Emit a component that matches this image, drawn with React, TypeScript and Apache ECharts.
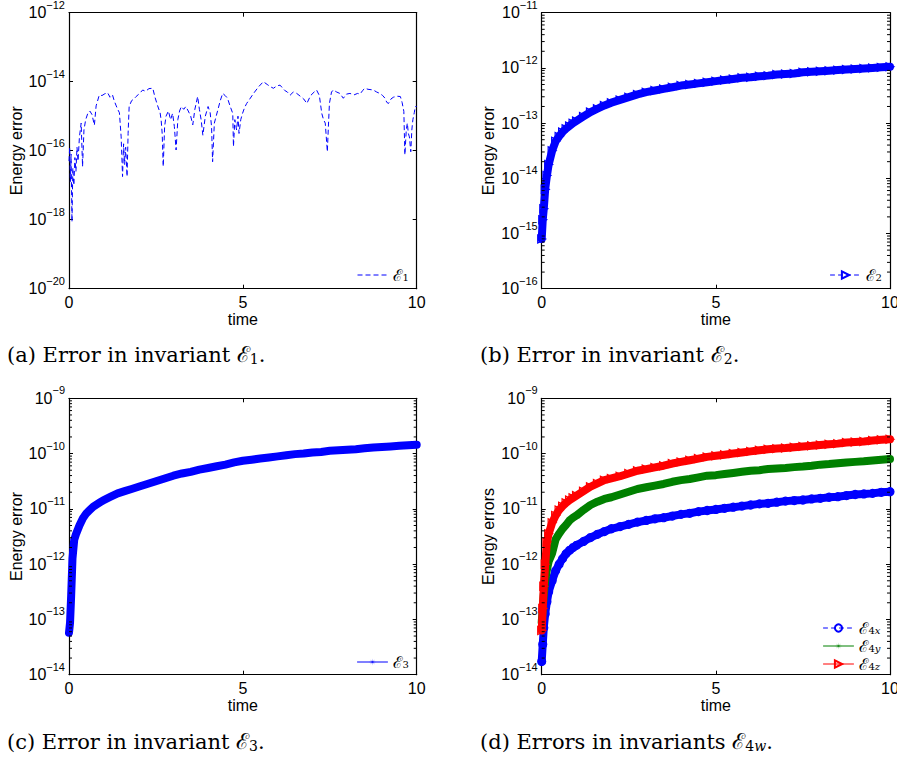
import React, { useEffect, useRef } from 'react';
import * as echarts from 'echarts';

// ---------- data ----------
// (a) E1: [time, log10(error)]
const E1_POINTS: number[][] = [
  [0.0, -16.3], [0.02, -15.9], [0.04, -16.9], [0.06, -16.1], [0.086, -18.06], [0.11, -16.5], [0.14, -17.0],
  [0.17, -16.2], [0.2, -16.6], [0.23, -15.9], [0.26, -16.3], [0.3, -15.6], [0.35, -15.2], [0.39, -16.46],
  [0.43, -15.4], [0.48, -15.1], [0.54, -14.92], [0.6, -14.85], [0.66, -14.95], [0.73, -15.26], [0.78, -14.7],
  [0.87, -14.39], [0.95, -14.4], [1.03, -14.35], [1.11, -14.32], [1.18, -14.45], [1.25, -14.38], [1.3, -14.55],
  [1.35, -14.68], [1.4, -14.8], [1.45, -14.9], [1.5, -15.6], [1.54, -16.75], [1.57, -15.8], [1.6, -16.4],
  [1.63, -15.9], [1.67, -16.75], [1.7, -15.5], [1.73, -14.72], [1.8, -14.55], [1.87, -14.5], [1.93, -14.43],
  [2.02, -14.35], [2.12, -14.24], [2.2, -14.28], [2.3, -14.2], [2.41, -14.19], [2.47, -14.44], [2.55, -14.7],
  [2.62, -14.9], [2.65, -15.11], [2.68, -15.5], [2.71, -16.46], [2.75, -15.3], [2.79, -15.0], [2.86, -14.85],
  [2.92, -15.1], [2.98, -14.92], [3.03, -15.3], [3.08, -15.98], [3.13, -15.1], [3.18, -14.85], [3.23, -14.72],
  [3.3, -14.8], [3.36, -14.72], [3.43, -14.85], [3.5, -15.0], [3.56, -15.25], [3.62, -14.8], [3.7, -14.43],
  [3.75, -14.8], [3.8, -15.1], [3.85, -15.55], [3.92, -15.0], [4.0, -14.72], [4.06, -14.9], [4.1, -15.3],
  [4.13, -16.32], [4.18, -15.2], [4.28, -14.82], [4.35, -14.55], [4.42, -14.34], [4.49, -14.4], [4.56, -14.48],
  [4.63, -14.7], [4.71, -14.92], [4.73, -15.88], [4.77, -15.1], [4.82, -15.4], [4.86, -15.0], [4.89, -15.5],
  [4.94, -15.1], [4.99, -14.92], [5.05, -14.75], [5.11, -14.63], [5.2, -14.5], [5.3, -14.35], [5.45, -14.15],
  [5.59, -14.0], [5.7, -14.08], [5.8, -14.15], [5.88, -14.19], [5.98, -14.12], [6.07, -14.1], [6.2, -14.25],
  [6.28, -14.3], [6.36, -14.39], [6.45, -14.3], [6.55, -14.34], [6.65, -14.42], [6.75, -14.5], [6.84, -14.63],
  [6.95, -14.4], [7.05, -14.3], [7.12, -14.24], [7.2, -14.4], [7.27, -14.92], [7.32, -15.1], [7.37, -15.2],
  [7.43, -16.03], [7.46, -15.3], [7.49, -14.63], [7.55, -14.3], [7.6, -14.24], [7.7, -14.3], [7.79, -14.34],
  [7.89, -14.48], [7.98, -14.36], [8.08, -14.34], [8.2, -14.38], [8.3, -14.34], [8.37, -14.36], [8.45, -14.25],
  [8.51, -14.19], [8.6, -14.22], [8.75, -14.24], [8.85, -14.3], [8.94, -14.34], [9.02, -14.4], [9.09, -14.48],
  [9.14, -14.6], [9.19, -14.63], [9.26, -14.5], [9.33, -14.45], [9.43, -14.42], [9.53, -14.43], [9.58, -14.6],
  [9.63, -14.86], [9.66, -16.12], [9.7, -15.4], [9.73, -15.2], [9.76, -15.5], [9.79, -15.6], [9.83, -16.03],
  [9.86, -15.4], [9.89, -15.1], [9.93, -14.9], [9.96, -14.72], [10.0, -14.72],
];

// shared sample times for (b), (c), (d)
const TIME = [
  0, 0.03, 0.06, 0.1, 0.15, 0.2, 0.3, 0.4, 0.5, 0.6, 0.7, 0.8, 0.9, 1.0, 1.2, 1.4, 1.6, 1.8, 2.0,
  2.25, 2.5, 2.75, 3.0, 3.25, 3.5, 3.75, 4.0, 4.25, 4.5, 4.75, 5.0, 5.25, 5.5, 5.75, 6.0,
  6.25, 6.5, 6.75, 7.0, 7.25, 7.5, 7.75, 8.0, 8.25, 8.5, 8.75, 9.0, 9.25, 9.5, 9.75, 10.0,
];
// log10 of errors
const E2_LOG = [
  -15.1, -14.75, -14.55, -14.2, -13.95, -13.75, -13.5, -13.33, -13.24, -13.16, -13.1, -13.05, -13.0, -12.96, -12.88, -12.8, -12.74, -12.68, -12.63,
  -12.58, -12.53, -12.48, -12.44, -12.41, -12.38, -12.35, -12.32, -12.3, -12.28, -12.26, -12.24, -12.22, -12.2, -12.18, -12.17,
  -12.15, -12.14, -12.12, -12.11, -12.1, -12.08, -12.07, -12.06, -12.05, -12.04, -12.03, -12.02, -12.01, -12.0, -11.99, -11.98,
];
const E3_LOG = [
  -13.24, -13.06, -12.6, -11.9, -11.56, -11.46, -11.3, -11.17, -11.08, -11.02, -10.96, -10.92, -10.88, -10.84, -10.78, -10.72, -10.68, -10.64, -10.6,
  -10.55, -10.5, -10.45, -10.4, -10.36, -10.33, -10.29, -10.26, -10.23, -10.2, -10.16, -10.13, -10.11, -10.09, -10.07, -10.05,
  -10.03, -10.01, -10.0, -9.98, -9.97, -9.95, -9.94, -9.93, -9.92, -9.905, -9.89, -9.88, -9.87, -9.86, -9.85, -9.84,
];
const E4X_LOG = [
  -13.76, -13.45, -13.15, -12.9, -12.68, -12.5, -12.3, -12.12, -12.0, -11.9, -11.81, -11.75, -11.7, -11.66, -11.59, -11.52, -11.46, -11.41, -11.36,
  -11.32, -11.28, -11.24, -11.21, -11.18, -11.16, -11.13, -11.1, -11.08, -11.05, -11.03, -11.01, -10.99, -10.97, -10.95, -10.93,
  -10.91, -10.9, -10.88, -10.86, -10.85, -10.84, -10.82, -10.81, -10.79, -10.78, -10.76, -10.74, -10.73, -10.72, -10.7, -10.69,
];
const E4Y_LOG = [
  -13.05, -12.8, -12.55, -12.3, -12.1, -11.95, -11.8, -11.55, -11.45, -11.36, -11.29, -11.21, -11.16, -11.12, -11.02, -10.93, -10.87, -10.82, -10.79,
  -10.74, -10.69, -10.64, -10.61, -10.58, -10.55, -10.51, -10.48, -10.46, -10.43, -10.4, -10.39, -10.37, -10.35, -10.33, -10.31,
  -10.3, -10.28, -10.27, -10.26, -10.245, -10.235, -10.22, -10.2, -10.19, -10.175, -10.16, -10.15, -10.14, -10.125, -10.11, -10.1,
];
const E4Z_LOG = [
  -13.2, -12.8, -12.4, -12.0, -11.6, -11.45, -11.25, -11.12, -11.02, -10.95, -10.89, -10.84, -10.8, -10.76, -10.68, -10.6, -10.54, -10.48, -10.45,
  -10.41, -10.36, -10.31, -10.28, -10.25, -10.22, -10.18, -10.15, -10.12, -10.09, -10.06, -10.04, -10.02, -10.0, -9.98, -9.96,
  -9.94, -9.92, -9.91, -9.9, -9.885, -9.87, -9.86, -9.845, -9.83, -9.82, -9.8, -9.79, -9.78, -9.765, -9.75, -9.74,
];

// axis settings
const X_RANGE = [0, 10];
const X_INTERVAL = 5;
const Y_EXP_RANGES = [[-20, -12], [-16, -11], [-14, -9], [-14, -9]];
const Y_EXP_INTERVALS = [2, 1, 1, 1];
const MINOR_MULTIPLIERS = [2, 3, 4, 5, 6, 7, 8, 9];
const HAS_MINOR = [false, true, true, true];
const Y_NAMES = ['Energy error', 'Energy error', 'Energy error', 'Energy errors'];
const X_NAME = 'time';
const CAPTIONS = [
  ['(a) Error in invariant ', '1'],
  ['(b) Error in invariant ', '2'],
  ['(c) Error in invariant ', '3'],
  ['(d) Errors in invariants ', '4w'],
];

// ---------- styles ----------
const SANS = 'Liberation Sans, Arial, Helvetica, sans-serif';
const SERIF = 'DejaVu Serif, serif';
const BLUE = '#0000ff';
const GREEN = '#008000';
const RED = '#ff0000';
const ASTERISK =
  'path://M20 10 L11.39 10.57 L17.07 17.07 L10.57 11.39 L10 20 L9.43 11.39 L2.93 17.07 L8.61 10.57 L0 10 L8.61 9.43 L2.93 2.93 L9.43 8.61 L10 0 L10.57 8.61 L17.07 2.93 L11.39 9.43 Z';

const GRIDS = [
  { left: 69, top: 12.7, width: 347.7, height: 276 },
  { left: 541.7, top: 12.7, width: 348.3, height: 276 },
  { left: 69, top: 398.3, width: 347.7, height: 276.4 },
  { left: 541.7, top: 398.3, width: 348.3, height: 276.4 },
];

const toData = (times: number[], logs: number[]) =>
  times.slice(0, Math.min(times.length, logs.length)).map((t, i) => [t, Math.pow(10, logs[i])]);

const MINUS = '\u2212';

function buildOption() {
  const axisLine = { show: true, onZero: false, lineStyle: { color: '#000', width: 1.2 } };
  const axisTick = { show: true, inside: true, length: 4, lineStyle: { color: '#000', width: 1 } };
  const xAxis: any[] = [];
  const yAxis: any[] = [];
  GRIDS.forEach((_, g) => {
    const xb = {
      type: 'value', gridIndex: g, min: X_RANGE[0], max: X_RANGE[1], interval: X_INTERVAL,
      axisLine, axisTick, splitLine: { show: false },
    };
    xAxis.push({
      ...xb, position: 'bottom', name: X_NAME, nameLocation: 'middle', nameGap: 21,
      nameTextStyle: { fontFamily: SANS, fontSize: 16, color: '#000' },
      axisLabel: { fontFamily: SANS, fontSize: 16, color: '#000', margin: 6 },
    });
    xAxis.push({ ...xb, position: 'top', axisLabel: { show: false } });
    const [lo, hi] = Y_EXP_RANGES[g];
    const yb = {
      type: 'log', logBase: 10, gridIndex: g, min: Math.pow(10, lo), max: Math.pow(10, hi),
      interval: Y_EXP_INTERVALS[g], axisLine, axisTick, splitLine: { show: false }, minorTick: { show: false },
    };
    yAxis.push({
      ...yb, position: 'left', name: Y_NAMES[g], nameLocation: 'middle', nameGap: 45,
      nameTextStyle: { fontFamily: SANS, fontSize: 16, color: '#000' },
      axisLabel: {
        margin: 4,
        formatter: (v: number) => {
          const e = Math.round(Math.log10(v));
          return `{b|10}{s|${e < 0 ? MINUS : ''}${Math.abs(e)}}`;
        },
        rich: {
          b: { fontFamily: SANS, fontSize: 16, color: '#000' },
          s: { fontFamily: SANS, fontSize: 11, color: '#000', padding: [0, 0, 16, 0] },
        },
      },
    });
    yAxis.push({ ...yb, position: 'right', axisLabel: { show: false } });
  });

  const legendRich = {
    e: { fontFamily: SERIF, fontSize: 16, color: '#000', lineHeight: 15 },
    s: { fontFamily: SERIF, fontSize: 10, color: '#000', lineHeight: 10, padding: [5, 0, 0, 0] },
    si: { fontFamily: SERIF, fontSize: 10, fontStyle: 'italic', color: '#000', lineHeight: 10, padding: [5, 0, 0, 0] },
  };
  const legendFormatter = (name: string) => {
    const sub = name.slice(1);
    if (sub.length === 1) return `{e|\u2130}{s|${sub}}`;
    return `{e|\u2130}{s|${sub[0]}}{si|${sub.slice(1)}}`;
  };
  const legendBase = {
    orient: 'vertical', itemWidth: 30, itemHeight: 9, itemGap: 2, padding: 0,
    selectedMode: false, formatter: legendFormatter, textStyle: { color: '#000', rich: legendRich },
  };

  const band = (name: string, g: number, logs: number[], color: string, symbol: string, rotate: number, filled: boolean, z: number) => ({
    type: 'line', name, xAxisIndex: 2 * g, yAxisIndex: 2 * g, data: toData(TIME, logs),
    symbol, symbolSize: 8, symbolRotate: rotate, showSymbol: true, z,
    lineStyle: { color, width: 8, cap: 'round', join: 'round' },
    itemStyle: filled ? { color, borderColor: color, borderWidth: 0 } : { color: 'rgba(0,0,0,0)', borderColor: color, borderWidth: 1.2 },
    emphasis: { disabled: true },
  });

  const minorSeries = GRIDS.map((_, g) => {
    const [lo, hi] = Y_EXP_RANGES[g];
    const vals: number[][] = [];
    if (HAS_MINOR[g]) {
      for (let d = lo; d < hi; d++) MINOR_MULTIPLIERS.forEach((m) => vals.push([X_RANGE[0], m * Math.pow(10, d)]));
    }
    return {
      type: 'custom', name: 'minor' + g, xAxisIndex: 2 * g, yAxisIndex: 2 * g, silent: true, clip: false, z: 10,
      data: vals, encode: { x: 0, y: 1 },
      renderItem: (_p: any, api: any) => {
        const v = api.value(1);
        const l = api.coord([X_RANGE[0], v]);
        const r = api.coord([X_RANGE[1], v]);
        return {
          type: 'group',
          children: [
            { type: 'line', shape: { x1: l[0], y1: l[1], x2: l[0] + 3, y2: l[1] }, style: { stroke: '#000', lineWidth: 1 } },
            { type: 'line', shape: { x1: r[0] - 3, y1: r[1], x2: r[0], y2: r[1] }, style: { stroke: '#000', lineWidth: 1 } },
          ],
        };
      },
    };
  });

  const series: any[] = [
    {
      type: 'line', name: 'E1', xAxisIndex: 0, yAxisIndex: 0,
      data: E1_POINTS.map(([t, l]) => [t, Math.pow(10, l)]),
      showSymbol: false, symbol: 'none',
      lineStyle: { color: BLUE, width: 1, type: [5, 3] }, itemStyle: { color: BLUE },
      emphasis: { disabled: true },
    },
    band('E2', 1, E2_LOG, BLUE, 'triangle', -90, false, 2),
    band('E3', 2, E3_LOG, BLUE, ASTERISK, 0, true, 2),
    band('E4x', 3, E4X_LOG, BLUE, 'circle', 0, false, 2),
    band('E4y', 3, E4Y_LOG, GREEN, ASTERISK, 0, true, 3),
    band('E4z', 3, E4Z_LOG, RED, 'triangle', -90, false, 4),
    ...minorSeries,
  ];

  const thin = (type: any) => ({ width: 1, type });
  const legend = [
    { ...legendBase, left: 357, top: 267, data: [{ name: 'E1', lineStyle: thin([5, 3]), itemStyle: { opacity: 0 } }] },
    { ...legendBase, left: 830, top: 267, data: [{ name: 'E2', lineStyle: thin([4, 4]) }] },
    { ...legendBase, left: 357, top: 654, data: [{ name: 'E3', lineStyle: thin('solid') }] },
    {
      ...legendBase, left: 823, top: 620,
      data: [
        { name: 'E4x', lineStyle: thin([4, 4]) },
        { name: 'E4y', lineStyle: thin('solid') },
        { name: 'E4z', lineStyle: thin('solid') },
      ],
    },
  ];

  const capLeft = [7, 480, 7, 480];
  const capTop = [343, 343, 730, 730];
  const title = CAPTIONS.map(([txt, sub], i) => {
    const subPart = sub.length === 1 ? `{s|${sub}}` : `{s|${sub[0]}}{si|${sub.slice(1)}}`;
    return {
      text: `{t|${txt}}{e|\u2130}${subPart}{t|.}`,
      left: capLeft[i], top: capTop[i], padding: 0,
      textStyle: {
        fontFamily: SERIF, fontSize: 21, fontWeight: 'normal', color: '#000',
        rich: {
          t: { fontFamily: SERIF, fontSize: 21, color: '#000' },
          e: { fontFamily: SERIF, fontSize: 22, color: '#000' },
          s: { fontFamily: SERIF, fontSize: 14, color: '#000', padding: [9, 0, 0, 0] },
          si: { fontFamily: SERIF, fontSize: 14, fontStyle: 'italic', color: '#000', padding: [9, 0, 0, 0] },
        },
      },
    };
  });

  return {
    animation: false,
    backgroundColor: '#ffffff',
    title,
    grid: GRIDS.map((g) => ({ ...g, containLabel: false, outerBoundsMode: 'none', show: false })),
    xAxis,
    yAxis,
    legend,
    series,
  };
}

export default function App() {
  const ref = useRef<HTMLDivElement>(null);
  useEffect(() => {
    if (!ref.current) return;
    const chart = echarts.init(ref.current, undefined, { renderer: 'svg' });
    chart.setOption(buildOption() as any);
    return () => chart.dispose();
  }, []);
  return (
    <div
      ref={ref}
      style={{ position: 'fixed', left: 0, top: 0, width: 897, height: 760, background: '#fff' }}
    />
  );
}
